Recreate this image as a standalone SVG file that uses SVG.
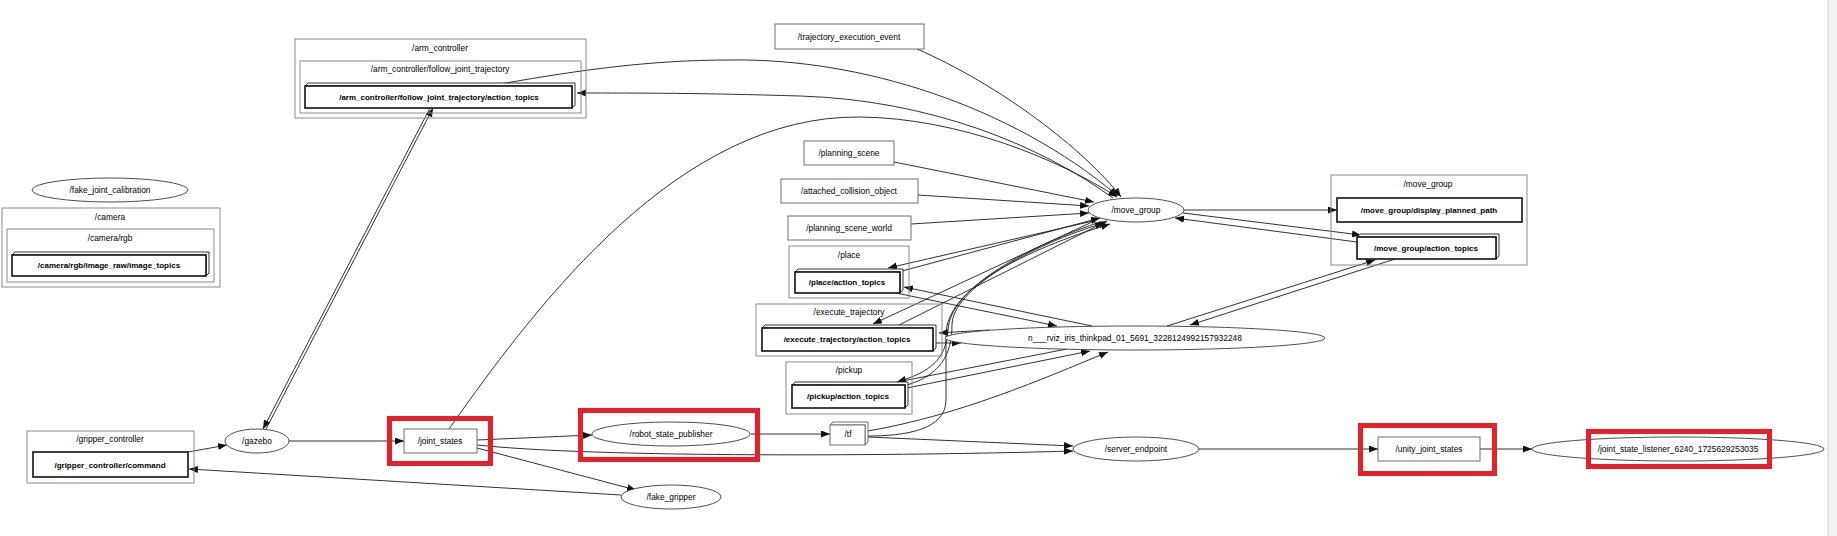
<svg xmlns="http://www.w3.org/2000/svg" width="1837" height="536" viewBox="0 0 1837 536">
<defs>
<style>
text{font-family:"Liberation Sans",Arial,sans-serif;font-size:8.4px;fill:#000;text-anchor:middle}
.b{font-weight:bold;font-size:8px}
.cl{fill:none;stroke:#8a8a8a;stroke-width:1}
.tp{fill:#fff;stroke:#6e6e6e;stroke-width:1}
.bt{fill:#fff;stroke:#111;stroke-width:1.6}
.bk{fill:#fff;stroke:#333;stroke-width:1}
.nd{fill:#fff;stroke:#3a3a3a;stroke-width:0.9}
.e{fill:none;stroke:#1a1a1a;stroke-width:0.9;marker-end:url(#ah)}
.rd{fill:none;stroke:#e8202a;stroke-width:5}
</style>
<marker id="ah" markerUnits="userSpaceOnUse" markerWidth="10" markerHeight="8" refX="9" refY="3.5" orient="auto">
<path d="M0,0 L9,3.5 L0,7 z" fill="#111"/>
</marker>
</defs>
<rect width="1837" height="536" fill="#fff"/>
<rect x="1828" y="0" width="9" height="536" fill="#f2f2f2"/>
<line x1="1828" y1="0" x2="1828" y2="536" stroke="#cfcfcf" stroke-width="1"/>

<g id="connectors">
<path class="e" d="M188,452 L227,445"/>
<path class="e" d="M621,495 L189,469"/>
<path class="e" d="M289,441 L404,441"/>
<path class="e" d="M266,429 L433,108"/>
<path class="e" d="M430,108 L263,429"/>
<path class="e" d="M449,429 C540,300 680,115 860,117 C960,118 1060,160 1117,197"/>
<path class="e" d="M500,84 C580,70 650,60 730,60 C860,58 1010,105 1118,196"/>
<path class="e" d="M1113,198 C1040,145 930,100 800,96 C700,93 640,93 577,93"/>
<path class="e" d="M917,49 C1000,85 1085,150 1121,197"/>
<path class="e" d="M894,162 L1094,202"/>
<path class="e" d="M918,195 L1089,206"/>
<path class="e" d="M911,224 L1089,213"/>
<path class="e" d="M1184,210 L1337,210"/>
<path class="e" d="M1183,213 L1361,235"/>
<path class="e" d="M1357,242 L1175,218"/>
<path class="e" d="M1395,259 L1190,325"/>
<path class="e" d="M1167,326 L1375,260"/>
<path class="e" d="M1093,221 L888,268"/>
<path class="e" d="M902,271 L1100,218"/>
<path class="e" d="M1092,326 L904,287"/>
<path class="e" d="M896,293 L1057,326"/>
<path class="e" d="M1092,222 L873,324"/>
<path class="e" d="M897,326 L1107,221"/>
<path class="e" d="M990,330 C970,331 955,332 939,333"/>
<path class="e" d="M935,343 L961,343"/>
<path class="e" d="M1097,223 C1020,250 950,290 948,330 C946,360 930,372 897,382"/>
<path class="e" d="M907,385 C940,375 952,355 952,325 C952,290 1030,245 1104,223"/>
<path class="e" d="M868,436 C905,436 946,430 946,400 L946,335 C946,288 1025,250 1110,224"/>
<path class="e" d="M1067,349 L897,382"/>
<path class="e" d="M907,388 L1090,351"/>
<path class="e" d="M868,431 C960,415 1040,380 1108,352"/>
<path class="e" d="M868,437 L1073,446"/>
<path class="e" d="M477,445 C600,458 900,456 1073,451"/>
<path class="e" d="M477,440 L592,435"/>
<path class="e" d="M477,448 L636,490"/>
<path class="e" d="M751,434 L830,434"/>
<path class="e" d="M1199,449 L1378,449"/>
<path class="e" d="M1480,449 L1532,449"/>
</g>

<g id="cluster_arm_controller">
<rect class="cl" x="295" y="39" width="291" height="79"/>
<text x="440" y="51">/arm_controller</text>
<rect class="cl" x="300" y="61" width="281" height="52"/>
<text x="440" y="72">/arm_controller/follow_joint_trajectory</text>
</g>
<g id="arm_action_topics">
<polygon class="bk" points="305,86 308,83 575,83 575,105 572,108 572,86"/>
<rect class="bt" x="305" y="86" width="267" height="22"/>
<text class="b" x="439" y="100">/arm_controller/follow_joint_trajectory/action_topics</text>
</g>

<g id="fake_joint_calibration">
<ellipse class="nd" cx="110" cy="190" rx="78" ry="12"/>
<text x="110" y="193">/fake_joint_calibration</text>
</g>

<g id="cluster_camera">
<rect class="cl" x="2" y="208" width="218" height="79"/>
<text x="110" y="220">/camera</text>
<rect class="cl" x="7" y="229" width="207" height="53"/>
<text x="110" y="241">/camera/rgb</text>
</g>
<g id="camera_image_topics">
<polygon class="bk" points="12,255 15,252 209,252 209,273 206,276 206,255"/>
<rect class="bt" x="12" y="255" width="194" height="21"/>
<text class="b" x="109" y="268">/camera/rgb/image_raw/image_topics</text>
</g>

<g id="trajectory_execution_event">
<rect class="tp" x="775" y="24" width="149" height="25"/>
<text x="849" y="40">/trajectory_execution_event</text>
</g>
<g id="planning_scene">
<rect class="tp" x="804" y="141" width="90" height="24"/>
<text x="849" y="156">/planning_scene</text>
</g>
<g id="attached_collision_object">
<rect class="tp" x="781" y="179" width="137" height="24"/>
<text x="849" y="194">/attached_collision_object</text>
</g>
<g id="planning_scene_world">
<rect class="tp" x="788" y="216" width="123" height="24"/>
<text x="849" y="231">/planning_scene_world</text>
</g>

<g id="cluster_place">
<rect class="cl" x="789" y="246" width="120" height="52"/>
<text x="849" y="258">/place</text>
</g>
<g id="place_action_topics">
<polygon class="bk" points="795,272 798,269 903,269 903,290 900,293 900,272"/>
<rect class="bt" x="795" y="272" width="105" height="21"/>
<text class="b" x="847" y="285">/place/action_topics</text>
</g>

<g id="cluster_execute_trajectory">
<rect class="cl" x="756" y="304" width="186" height="52"/>
<text x="849" y="315">/execute_trajectory</text>
</g>
<g id="execute_action_topics">
<polygon class="bk" points="762,328 765,325 936,325 936,348 933,351 933,328"/>
<rect class="bt" x="762" y="328" width="171" height="23"/>
<text class="b" x="847" y="342">/execute_trajectory/action_topics</text>
</g>

<g id="cluster_pickup">
<rect class="cl" x="786" y="362" width="126" height="52"/>
<text x="849" y="373">/pickup</text>
</g>
<g id="pickup_action_topics">
<polygon class="bk" points="792,385 795,382 908,382 908,405 905,408 905,385"/>
<rect class="bt" x="792" y="385" width="113" height="23"/>
<text class="b" x="848" y="399">/pickup/action_topics</text>
</g>

<g id="move_group">
<ellipse class="nd" cx="1136" cy="210" rx="48" ry="12"/>
<text x="1136" y="213">/move_group</text>
</g>

<g id="cluster_move_group">
<rect class="cl" x="1331" y="175" width="196" height="90"/>
<text x="1428" y="187">/move_group</text>
</g>
<g id="display_planned_path">
<rect class="bt" x="1337" y="198" width="185" height="24"/>
<text class="b" x="1429" y="213">/move_group/display_planned_path</text>
</g>
<g id="move_group_action_topics">
<polygon class="bk" points="1357,237 1360,234 1499,234 1499,256 1496,259 1496,237"/>
<rect class="bt" x="1357" y="237" width="139" height="22"/>
<text class="b" x="1426" y="251">/move_group/action_topics</text>
</g>

<g id="rviz">
<ellipse class="nd" cx="1135" cy="338" rx="190" ry="12"/>
<text x="1135" y="341">n___rviz_iris_thinkpad_01_5691_3228124992157932248</text>
</g>

<g id="cluster_gripper_controller">
<rect class="cl" x="27" y="431" width="167" height="52"/>
<text x="110" y="442">/gripper_controller</text>
</g>
<g id="gripper_command">
<rect class="bt" x="33" y="452" width="155" height="25"/>
<text class="b" x="110" y="468">/gripper_controller/command</text>
</g>

<g id="gazebo">
<ellipse class="nd" cx="257" cy="441" rx="32" ry="12"/>
<text x="257" y="444">/gazebo</text>
</g>
<g id="joint_states">
<rect class="tp" x="404" y="429" width="73" height="24"/>
<text x="440" y="444">/joint_states</text>
</g>
<g id="robot_state_publisher">
<ellipse class="nd" cx="671" cy="434" rx="79" ry="12"/>
<text x="671" y="437">/robot_state_publisher</text>
</g>
<g id="fake_gripper">
<ellipse class="nd" cx="671" cy="497" rx="50" ry="12"/>
<text x="671" y="500">/fake_gripper</text>
</g>
<g id="tf">
<polygon class="tp" points="830,425 833,422 868,422 868,442 865,445 865,425"/>
<rect class="tp" x="830" y="425" width="35" height="20"/>
<text x="848" y="437">/tf</text>
</g>
<g id="server_endpoint">
<ellipse class="nd" cx="1136" cy="449" rx="63" ry="12"/>
<text x="1136" y="452">/server_endpoint</text>
</g>
<g id="unity_joint_states">
<rect class="tp" x="1378" y="437" width="102" height="24"/>
<text x="1429" y="452">/unity_joint_states</text>
</g>
<g id="joint_state_listener">
<ellipse class="nd" cx="1678" cy="449" rx="146" ry="12"/>
<text x="1678" y="452">/joint_state_listener_6240_1725629253035</text>
</g>

<g id="highlights">
<rect class="rd" x="389.5" y="418.5" width="101" height="45"/>
<rect class="rd" x="580.5" y="410.5" width="177" height="49"/>
<rect class="rd" x="1360.5" y="425.5" width="134" height="48"/>
<rect class="rd" x="1588.5" y="431.5" width="181" height="35"/>
</g>
</svg>
